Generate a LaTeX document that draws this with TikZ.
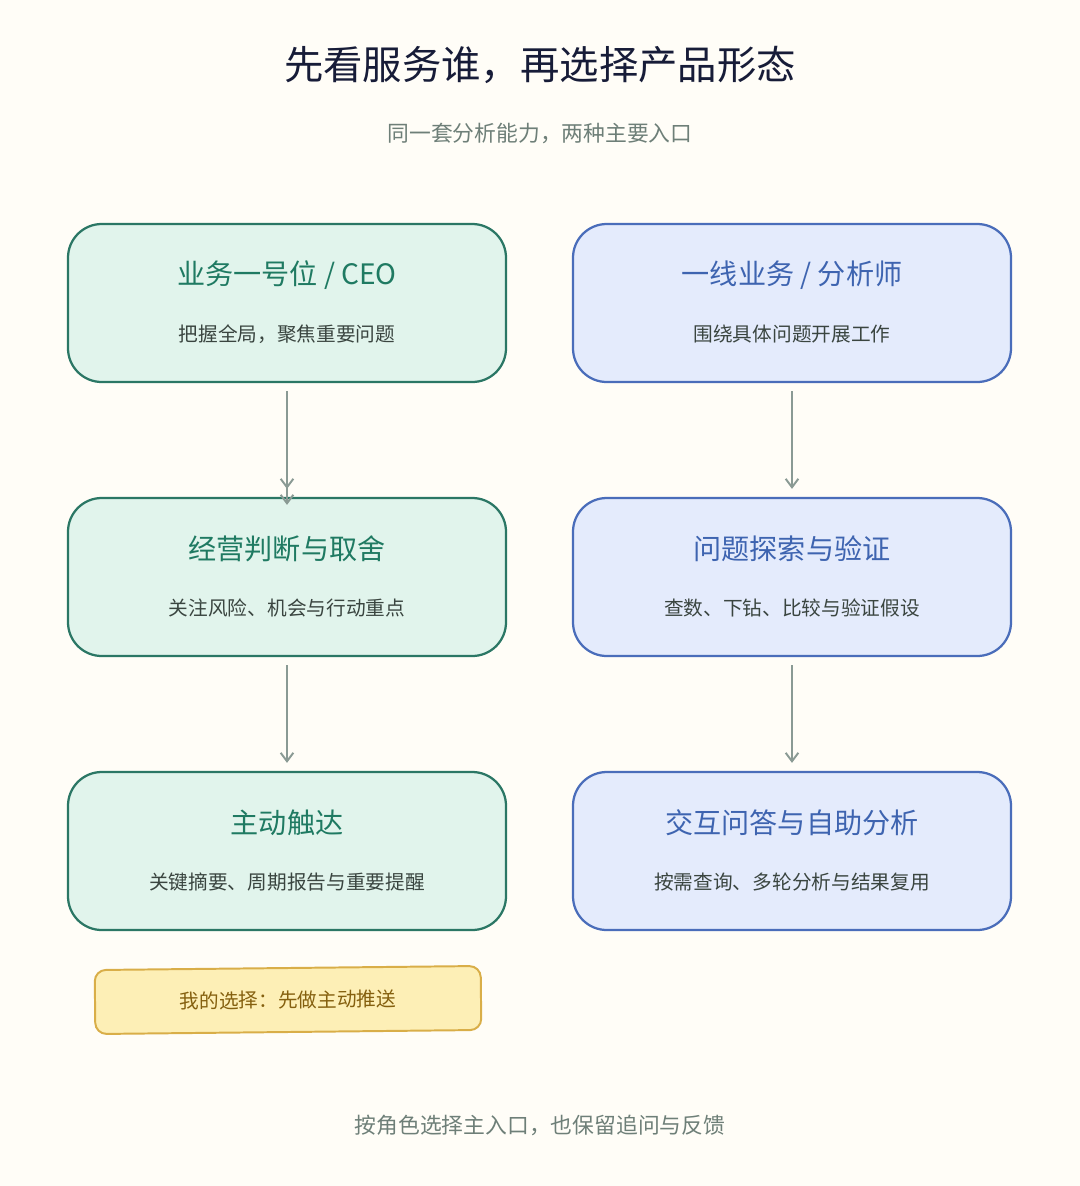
\documentclass[tikz,border=0pt]{standalone}
\usepackage{fontspec}
\setmainfont{Noto Sans CJK SC}
\usepackage{xcolor}
\usetikzlibrary{positioning, arrows.meta}
\definecolor{paper}{HTML}{FFFDF7}
\definecolor{greenfill}{HTML}{E1F4EC}
\definecolor{greenline}{HTML}{2B7765}
\definecolor{greentext}{HTML}{1F7A62}
\definecolor{bluefill}{HTML}{E4EBFC}
\definecolor{blueline}{HTML}{4A6DBA}
\definecolor{bluetext}{HTML}{3E64B0}
\definecolor{yellowfill}{HTML}{FDEFB6}
\definecolor{yellowline}{HTML}{D9AE48}
\definecolor{yellowtext}{HTML}{85600F}
\definecolor{graytext}{HTML}{6E7F78}
\definecolor{darktext}{HTML}{3A4540}
\definecolor{arrowgray}{HTML}{8A9A94}
\tikzset{
  role/.style={rectangle, rounded corners=24pt, minimum width=438*0.025cm, minimum height=158*0.025cm, line width=1.6pt},
  green role/.style={role, draw=greenline, fill=greenfill},
  blue role/.style={role, draw=blueline, fill=bluefill},
  head/.style={font=\fontsize{20}{24}\selectfont},
  note/.style={font=\fontsize{14}{17}\selectfont, text=darktext},
  arrow/.style={draw=arrowgray, line width=1.4pt, -{Straight Barb[length=6pt,width=9pt]}}
}
\begin{document}
\begin{tikzpicture}[x=0.025cm, y=-0.025cm]
\fill[paper] (0,0) rectangle (1080,1186);
\useasboundingbox (0,0) rectangle (1080,1186);

\node[font=\fontsize{28}{32}\selectfont, text=black!80!blue!60!darktext] (title) at (540,65) {先看服务谁，再选择产品形态};
\node[font=\fontsize{15.5}{19}\selectfont, text=graytext] (subtitle) at (540,133) {同一套分析能力，两种主要入口};

% left column
\node[green role] (ceo) at (287,303) {};
\node[head, text=greentext] at (287,275) {业务一号位 / CEO};
\node[note] at (287,334) {把握全局，聚焦重要问题};
\node[green role] (judge) at (287,577) {};
\node[head, text=greentext] at (287,549) {经营判断与取舍};
\node[note] at (287,608) {关注风险、机会与行动重点};
\node[green role] (push) at (287,851) {};
\node[head, text=greentext] at (287,823) {主动触达};
\node[note] at (287,882) {关键摘要、周期报告与重要提醒};

% right column
\node[blue role] (analyst) at (792,303) {};
\node[head, text=bluetext] at (792,275) {一线业务 / 分析师};
\node[note] at (792,334) {围绕具体问题开展工作};
\node[blue role] (explore) at (792,577) {};
\node[head, text=bluetext] at (792,549) {问题探索与验证};
\node[note] at (792,608) {查数、下钻、比较与验证假设};
\node[blue role] (chat) at (792,851) {};
\node[head, text=bluetext] at (792,823) {交互问答与自助分析};
\node[note] at (792,882) {按需查询、多轮分析与结果复用};

\draw[arrow] (ceo.south) ++(0,8) coordinate (a1) (a1) -- ([yshift=-8*0.025cm]judge.north);
\draw[arrow] ([yshift=-8*0.025cm]ceo.south) -- ([yshift=8*0.025cm]judge.north);
\draw[arrow] ([yshift=-8*0.025cm]judge.south) -- ([yshift=8*0.025cm]push.north);
\draw[arrow] ([yshift=-8*0.025cm]analyst.south) -- ([yshift=8*0.025cm]explore.north);
\draw[arrow] ([yshift=-8*0.025cm]explore.south) -- ([yshift=8*0.025cm]chat.north);

\node[rectangle, rounded corners=8pt, draw=yellowline, fill=yellowfill, line width=1.4pt, minimum width=386*0.025cm, minimum height=64*0.025cm, font=\fontsize{14}{17}\selectfont, text=yellowtext, rotate=0.6] (choice) at (288,1000) {我的选择：先做主动推送};

\node[font=\fontsize{15.5}{19}\selectfont, text=graytext] (footer) at (540,1125) {按角色选择主入口，也保留追问与反馈};
\end{tikzpicture}
\end{document}
